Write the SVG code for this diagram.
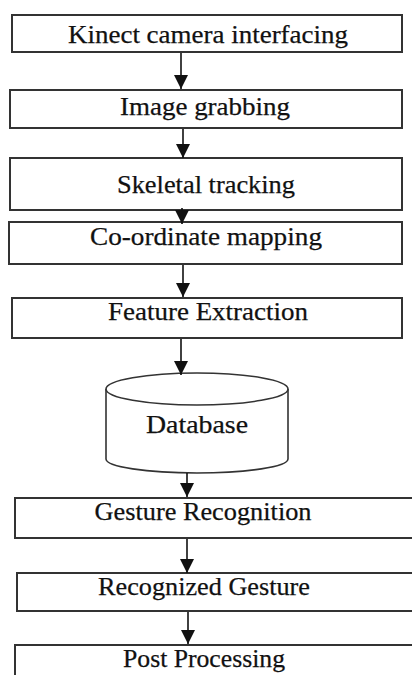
<svg xmlns="http://www.w3.org/2000/svg" width="412" height="675" viewBox="0 0 412 675">
  <style>
    .box { fill: #ffffff; stroke: #333333; stroke-width: 2; }
    .db { fill: #ffffff; stroke: #333333; stroke-width: 1.6; }
    .lbl { font-family: "Liberation Serif", "Times New Roman", serif; font-size: 26px; fill: #111111; stroke: #111111; stroke-width: 0.25; text-anchor: middle; }
    .link { stroke: #111111; stroke-width: 1.6; fill: none; marker-end: url(#arrow); }
  </style>
  <defs>
    <marker id="arrow" markerUnits="userSpaceOnUse" markerWidth="14" markerHeight="17" refX="14" refY="7" orient="auto">
      <path d="M0,0 L14,7 L0,14 Z" fill="#111111"/>
    </marker>
  </defs>
  <rect width="412" height="675" fill="#ffffff"/>

  <g id="node-kinect">
    <rect class="box" x="12" y="15" width="390" height="37"/>
    <text class="lbl" x="208" y="43" textLength="280" lengthAdjust="spacingAndGlyphs">Kinect camera interfacing</text>
  </g>
  <g id="node-grab">
    <rect class="box" x="10" y="90" width="392" height="38"/>
    <text class="lbl" x="205" y="115" textLength="170" lengthAdjust="spacingAndGlyphs">Image grabbing</text>
  </g>
  <g id="node-skeletal">
    <rect class="box" x="10" y="158" width="392" height="52"/>
    <text class="lbl" x="206" y="193" textLength="178" lengthAdjust="spacingAndGlyphs">Skeletal tracking</text>
  </g>
  <g id="node-mapping">
    <rect class="box" x="9" y="222" width="393" height="42"/>
    <text class="lbl" x="206" y="245" textLength="232" lengthAdjust="spacingAndGlyphs">Co-ordinate mapping</text>
  </g>
  <g id="node-feature">
    <rect class="box" x="12" y="298" width="390" height="40"/>
    <text class="lbl" x="208" y="320" textLength="200" lengthAdjust="spacingAndGlyphs">Feature Extraction</text>
  </g>
  <g id="node-database">
    <path class="db" d="M106,389 L106,459 A91,14 0 0 0 288,459 L288,389"/>
    <ellipse class="db" cx="197" cy="389" rx="91" ry="16"/>
    <text class="lbl" x="197" y="433" textLength="102" lengthAdjust="spacingAndGlyphs">Database</text>
  </g>
  <g id="node-recognition">
    <rect class="box" x="15" y="498" width="410" height="40"/>
    <text class="lbl" x="203" y="520" textLength="217" lengthAdjust="spacingAndGlyphs">Gesture Recognition</text>
  </g>
  <g id="node-recognized">
    <rect class="box" x="17" y="573" width="410" height="38"/>
    <text class="lbl" x="204" y="595" textLength="212" lengthAdjust="spacingAndGlyphs">Recognized Gesture</text>
  </g>
  <g id="node-post">
    <rect class="box" x="15" y="645" width="410" height="60"/>
    <text class="lbl" x="204" y="667" textLength="162" lengthAdjust="spacingAndGlyphs">Post Processing</text>
  </g>

  <g id="connectors">
    <line class="link" x1="181" y1="53" x2="181" y2="89"/>
    <line class="link" x1="183" y1="129" x2="183" y2="158"/>
    <line class="link" x1="182" y1="208" x2="182" y2="224"/>
    <line class="link" x1="183" y1="265" x2="183" y2="297"/>
    <line class="link" x1="181" y1="339" x2="181" y2="375"/>
    <line class="link" x1="187" y1="473" x2="187" y2="497"/>
    <line class="link" x1="187" y1="539" x2="187" y2="573"/>
    <line class="link" x1="188" y1="612" x2="188" y2="644"/>
  </g>
</svg>
